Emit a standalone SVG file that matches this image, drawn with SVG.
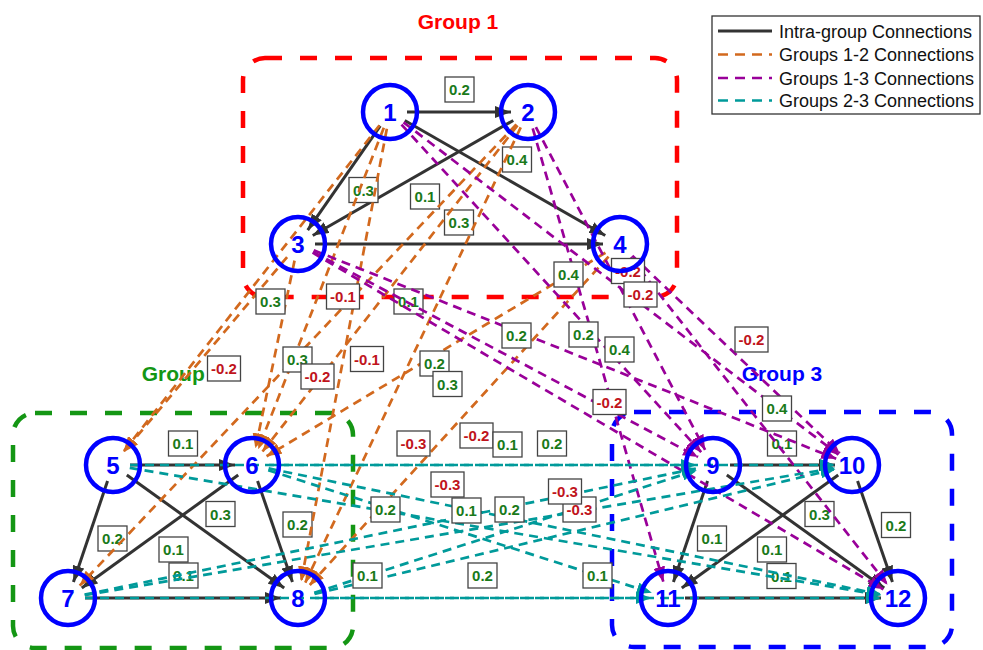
<svg xmlns="http://www.w3.org/2000/svg" width="983" height="650" viewBox="0 0 983 650">
<style>
.bg{fill:#ffffff}
.grp{fill:none;stroke-width:4.5;stroke-dasharray:17,18}
.gt{font-family:"Liberation Sans",Arial,sans-serif;font-weight:bold;font-size:21px;text-anchor:middle}
.node circle{fill:none;stroke:#0000ff;stroke-width:4.5}
.node text{font-family:"Liberation Sans",Arial,sans-serif;font-weight:bold;font-size:24px;fill:#0000ff;text-anchor:middle}
.ia{stroke:#333333;stroke-width:3;fill:none}
.c12{stroke:#d2691e;stroke-width:2.7;stroke-dasharray:9,6;fill:none}
.c13{stroke:#990099;stroke-width:2.7;stroke-dasharray:9,6;fill:none}
.c23{stroke:#009a9a;stroke-width:2.7;stroke-dasharray:9,6;fill:none}
.lb rect{fill:#ffffff;stroke:#444444;stroke-width:1.3}
.lb text{font-family:"Liberation Sans",Arial,sans-serif;font-weight:bold;font-size:15px;text-anchor:middle}
.g text{fill:#1a7a1a}
.r text{fill:#c0141c}
.leg text{font-family:"Liberation Sans",Arial,sans-serif;font-size:18px;fill:#111111}
</style>
<defs>
<marker id="ad" markerUnits="userSpaceOnUse" markerWidth="16" markerHeight="12" refX="16" refY="6" orient="auto"><path d="M0,0 L16,6 L0,12 z" fill="#333333"/></marker>
<marker id="ao" markerUnits="userSpaceOnUse" markerWidth="15" markerHeight="12" refX="15" refY="6" orient="auto"><path d="M0,0 L15,6 L0,12 z" fill="#d2691e"/></marker>
<marker id="ap" markerUnits="userSpaceOnUse" markerWidth="15" markerHeight="12" refX="15" refY="6" orient="auto"><path d="M0,0 L15,6 L0,12 z" fill="#990099"/></marker>
<marker id="at" markerUnits="userSpaceOnUse" markerWidth="15" markerHeight="12" refX="15" refY="6" orient="auto"><path d="M0,0 L15,6 L0,12 z" fill="#009a9a"/></marker>
</defs>
<rect class="bg" x="0" y="0" width="983" height="650"/>

<g id="groups">
<rect class="grp" x="243" y="58" width="434" height="239" rx="22" stroke="#ff0000"/>
<rect class="grp" x="13" y="413" width="340" height="235" rx="22" stroke="#149614"/>
<rect class="grp" x="612" y="412" width="340" height="235" rx="22" stroke="#0000ff"/>
<text class="gt" x="458" y="29" fill="#ff0000">Group 1</text>
<text class="gt" x="182" y="381" fill="#149614">Group 2</text>
<text class="gt" x="782" y="381" fill="#0000ff">Group 3</text>
</g>

<g id="connectors">
<g id="intra" marker-end="url(#ad)">
<line class="ia" x1="407" y1="112" x2="511" y2="112"/>
<line class="ia" x1="380.28" y1="125.95" x2="307.72" y2="230.05"/>
<line class="ia" x1="404.74" y1="120.46" x2="605.26" y2="235.54"/>
<line class="ia" x1="513.26" y1="120.46" x2="312.74" y2="235.54"/>
<line class="ia" x1="315" y1="244" x2="603" y2="244"/>
<line class="ia" x1="130" y1="465" x2="235" y2="465"/>
<line class="ia" x1="107.55" y1="481.10" x2="73.45" y2="581.90"/>
<line class="ia" x1="126.80" y1="474.92" x2="284.20" y2="588.08"/>
<line class="ia" x1="238.22" y1="474.96" x2="81.78" y2="588.04"/>
<line class="ia" x1="257.56" y1="481.07" x2="292.44" y2="581.93"/>
<line class="ia" x1="85" y1="598" x2="281" y2="598"/>
<line class="ia" x1="730" y1="465" x2="835" y2="465"/>
<line class="ia" x1="707.55" y1="481.10" x2="673.45" y2="581.90"/>
<line class="ia" x1="726.80" y1="474.92" x2="884.20" y2="588.08"/>
<line class="ia" x1="838.22" y1="474.96" x2="681.78" y2="588.04"/>
<line class="ia" x1="857.56" y1="481.07" x2="892.44" y2="581.93"/>
<line class="ia" x1="685" y1="598" x2="881" y2="598"/>
</g>
<g id="intra-labels">
<g class="lb g" transform="translate(459.5,89.5)"><rect x="-14.5" y="-12.5" width="29" height="25"/><text y="5.5">0.2</text></g>
<g class="lb g" transform="translate(363.5,190)"><rect x="-14.5" y="-12.5" width="29" height="25"/><text y="5.5">0.3</text></g>
<g class="lb g" transform="translate(517,159.5)"><rect x="-14.5" y="-12.5" width="29" height="25"/><text y="5.5">0.4</text></g>
<g class="lb g" transform="translate(425,196.5)"><rect x="-14.5" y="-12.5" width="29" height="25"/><text y="5.5">0.1</text></g>
<g class="lb g" transform="translate(459,222.5)"><rect x="-14.5" y="-12.5" width="29" height="25"/><text y="5.5">0.3</text></g>
<g class="lb g" transform="translate(183,443.5)"><rect x="-14.5" y="-12.5" width="29" height="25"/><text y="5.5">0.1</text></g>
<g class="lb g" transform="translate(112.5,538.5)"><rect x="-14.5" y="-12.5" width="29" height="25"/><text y="5.5">0.2</text></g>
<g class="lb g" transform="translate(220.5,514)"><rect x="-14.5" y="-12.5" width="29" height="25"/><text y="5.5">0.3</text></g>
<g class="lb g" transform="translate(173.5,549.5)"><rect x="-14.5" y="-12.5" width="29" height="25"/><text y="5.5">0.1</text></g>
<g class="lb g" transform="translate(297.5,524.5)"><rect x="-14.5" y="-12.5" width="29" height="25"/><text y="5.5">0.2</text></g>
<g class="lb g" transform="translate(183.5,575.5)"><rect x="-14.5" y="-12.5" width="29" height="25"/><text y="5.5">0.1</text></g>
<g class="lb g" transform="translate(782,443.5)"><rect x="-14.5" y="-12.5" width="29" height="25"/><text y="5.5">0.1</text></g>
<g class="lb g" transform="translate(712,538.5)"><rect x="-14.5" y="-12.5" width="29" height="25"/><text y="5.5">0.1</text></g>
<g class="lb g" transform="translate(819.5,514)"><rect x="-14.5" y="-12.5" width="29" height="25"/><text y="5.5">0.3</text></g>
<g class="lb g" transform="translate(772,549.5)"><rect x="-14.5" y="-12.5" width="29" height="25"/><text y="5.5">0.1</text></g>
<g class="lb g" transform="translate(896,525)"><rect x="-14.5" y="-12.5" width="29" height="25"/><text y="5.5">0.2</text></g>
<g class="lb g" transform="translate(781.5,576)"><rect x="-14.5" y="-12.5" width="29" height="25"/><text y="5.5">0.1</text></g>
</g>

<g id="g12" marker-end="url(#ao)">
<line class="c12" x1="379.51" y1="125.37" x2="123.49" y2="451.63"/>
<line class="c12" x1="383.81" y1="127.83" x2="258.19" y2="449.17"/>
<line class="c12" x1="386.84" y1="128.70" x2="301.16" y2="581.30"/>
<line class="c12" x1="517.53" y1="125.39" x2="262.47" y2="451.61"/>
<line class="c12" x1="516.31" y1="124.35" x2="79.69" y2="585.65"/>
<line class="c12" x1="520.73" y1="127.37" x2="305.27" y2="582.63"/>
<line class="c12" x1="287.09" y1="257.04" x2="123.91" y2="451.96"/>
<line class="c12" x1="294.54" y1="260.64" x2="255.46" y2="448.36"/>
<line class="c12" x1="605.43" y1="252.75" x2="266.57" y2="456.25"/>
<line class="c12" x1="608.56" y1="256.58" x2="309.44" y2="585.42"/>
</g>
<g id="g12-labels">
<g class="lb g" transform="translate(270.5,301.5)"><rect x="-14.5" y="-12.5" width="29" height="25"/><text y="5.5">0.3</text></g>
<g class="lb r" transform="translate(343,296.5)"><rect x="-16.5" y="-12.5" width="33" height="25"/><text y="5.5">-0.1</text></g>
<g class="lb r" transform="translate(367,359)"><rect x="-16.5" y="-12.5" width="33" height="25"/><text y="5.5">-0.1</text></g>
<g class="lb g" transform="translate(408.5,301.5)"><rect x="-14.5" y="-12.5" width="29" height="25"/><text y="5.5">0.1</text></g>
<g class="lb g" transform="translate(297.5,359.5)"><rect x="-14.5" y="-12.5" width="29" height="25"/><text y="5.5">0.3</text></g>
<g class="lb r" transform="translate(317.5,376.5)"><rect x="-16.5" y="-12.5" width="33" height="25"/><text y="5.5">-0.2</text></g>
<g class="lb g" transform="translate(434.5,363.5)"><rect x="-14.5" y="-12.5" width="29" height="25"/><text y="5.5">0.2</text></g>
<g class="lb r" transform="translate(224,368.5)"><rect x="-16.5" y="-12.5" width="33" height="25"/><text y="5.5">-0.2</text></g>
<g class="lb g" transform="translate(447.5,384)"><rect x="-14.5" y="-12.5" width="29" height="25"/><text y="5.5">0.3</text></g>
<g class="lb r" transform="translate(476.5,435.5)"><rect x="-16.5" y="-12.5" width="33" height="25"/><text y="5.5">-0.2</text></g>
</g>

<g id="g13" marker-end="url(#ap)">
<line class="c13" x1="401.48" y1="124.54" x2="701.52" y2="452.46"/>
<line class="c13" x1="403.51" y1="122.32" x2="838.49" y2="454.68"/>
<line class="c13" x1="535.89" y1="127.06" x2="705.11" y2="449.94"/>
<line class="c13" x1="532.71" y1="128.34" x2="663.29" y2="581.66"/>
<line class="c13" x1="313.00" y1="251.99" x2="698.00" y2="457.01"/>
<line class="c13" x1="313.79" y1="250.30" x2="836.21" y2="458.70"/>
<line class="c13" x1="312.64" y1="252.64" x2="883.36" y2="589.36"/>
<line class="c13" x1="632.31" y1="255.73" x2="839.69" y2="453.27"/>
<line class="c13" x1="630.50" y1="257.37" x2="887.50" y2="584.63"/>
</g>
<g id="g13-labels">
<g class="lb g" transform="translate(568.5,274.5)"><rect x="-14.5" y="-12.5" width="29" height="25"/><text y="5.5">0.4</text></g>
<g class="lb r" transform="translate(628,271)"><rect x="-16.5" y="-12.5" width="33" height="25"/><text y="5.5">-0.2</text></g>
<g class="lb r" transform="translate(640.5,294.5)"><rect x="-16.5" y="-12.5" width="33" height="25"/><text y="5.5">-0.2</text></g>
<g class="lb g" transform="translate(619.5,349.5)"><rect x="-14.5" y="-12.5" width="29" height="25"/><text y="5.5">0.4</text></g>
<g class="lb g" transform="translate(516.5,335.5)"><rect x="-14.5" y="-12.5" width="29" height="25"/><text y="5.5">0.2</text></g>
<g class="lb g" transform="translate(583.5,334.5)"><rect x="-14.5" y="-12.5" width="29" height="25"/><text y="5.5">0.2</text></g>
<g class="lb r" transform="translate(609.5,402)"><rect x="-16.5" y="-12.5" width="33" height="25"/><text y="5.5">-0.2</text></g>
<g class="lb r" transform="translate(751.5,339.5)"><rect x="-16.5" y="-12.5" width="33" height="25"/><text y="5.5">-0.2</text></g>
<g class="lb g" transform="translate(777,408.5)"><rect x="-14.5" y="-12.5" width="29" height="25"/><text y="5.5">0.4</text></g>
</g>

<g id="g23" marker-end="url(#at)">
<line class="c23" x1="130" y1="465" x2="696" y2="465"/>
<line class="c23" x1="129.76" y1="467.84" x2="881.24" y2="595.16"/>
<line class="c23" x1="269" y1="465" x2="835" y2="465"/>
<line class="c23" x1="268.19" y1="470.18" x2="651.81" y2="592.82"/>
<line class="c23" x1="268.65" y1="468.43" x2="881.35" y2="594.57"/>
<line class="c23" x1="84.65" y1="594.57" x2="696.35" y2="468.43"/>
<line class="c23" x1="84.76" y1="595.16" x2="835.24" y2="467.84"/>
<line class="c23" x1="85" y1="598" x2="651" y2="598"/>
<line class="c23" x1="314.19" y1="592.81" x2="696.81" y2="470.19"/>
<line class="c23" x1="314.53" y1="594.03" x2="835.47" y2="468.97"/>
<line class="c23" x1="315" y1="598" x2="881" y2="598"/>
</g>
<g id="g23-labels">
<g class="lb r" transform="translate(413.5,443.5)"><rect x="-16.5" y="-12.5" width="33" height="25"/><text y="5.5">-0.3</text></g>
<g class="lb g" transform="translate(507.5,444.5)"><rect x="-14.5" y="-12.5" width="29" height="25"/><text y="5.5">0.1</text></g>
<g class="lb g" transform="translate(509.5,509.5)"><rect x="-14.5" y="-12.5" width="29" height="25"/><text y="5.5">0.2</text></g>
<g class="lb g" transform="translate(552,443.5)"><rect x="-14.5" y="-12.5" width="29" height="25"/><text y="5.5">0.2</text></g>
<g class="lb g" transform="translate(466.5,510.5)"><rect x="-14.5" y="-12.5" width="29" height="25"/><text y="5.5">0.1</text></g>
<g class="lb r" transform="translate(579.5,509.5)"><rect x="-16.5" y="-12.5" width="33" height="25"/><text y="5.5">-0.3</text></g>
<g class="lb g" transform="translate(385.5,509.5)"><rect x="-14.5" y="-12.5" width="29" height="25"/><text y="5.5">0.2</text></g>
<g class="lb r" transform="translate(447.5,484.5)"><rect x="-16.5" y="-12.5" width="33" height="25"/><text y="5.5">-0.3</text></g>
<g class="lb g" transform="translate(367.5,575.5)"><rect x="-14.5" y="-12.5" width="29" height="25"/><text y="5.5">0.1</text></g>
<g class="lb g" transform="translate(482.5,575.5)"><rect x="-14.5" y="-12.5" width="29" height="25"/><text y="5.5">0.2</text></g>
<g class="lb r" transform="translate(565,491.5)"><rect x="-16.5" y="-12.5" width="33" height="25"/><text y="5.5">-0.3</text></g>
<g class="lb g" transform="translate(597.5,575.5)"><rect x="-14.5" y="-12.5" width="29" height="25"/><text y="5.5">0.1</text></g>
</g>
</g>

<g id="n1" class="node"><circle cx="390" cy="112" r="27"/><text x="390" y="120.5">1</text></g>
<g id="n2" class="node"><circle cx="528" cy="112" r="27"/><text x="528" y="120.5">2</text></g>
<g id="n3" class="node"><circle cx="298" cy="244" r="27"/><text x="298" y="252.5">3</text></g>
<g id="n4" class="node"><circle cx="620" cy="244" r="27"/><text x="620" y="252.5">4</text></g>
<g id="n5" class="node"><circle cx="113" cy="465" r="27"/><text x="113" y="473.5">5</text></g>
<g id="n6" class="node"><circle cx="252" cy="465" r="27"/><text x="252" y="473.5">6</text></g>
<g id="n7" class="node"><circle cx="68" cy="598" r="27"/><text x="68" y="606.5">7</text></g>
<g id="n8" class="node"><circle cx="298" cy="598" r="27"/><text x="298" y="606.5">8</text></g>
<g id="n9" class="node"><circle cx="713" cy="465" r="27"/><text x="713" y="473.5">9</text></g>
<g id="n10" class="node"><circle cx="852" cy="465" r="27"/><text x="852" y="473.5">10</text></g>
<g id="n11" class="node"><circle cx="668" cy="598" r="27"/><text x="668" y="606.5">11</text></g>
<g id="n12" class="node"><circle cx="898" cy="598" r="27"/><text x="898" y="606.5">12</text></g>

<g id="legend" class="leg">
<rect x="712" y="16" width="268" height="98" fill="#ffffff" stroke="#333333" stroke-width="1.3"/>
<line x1="718" y1="31" x2="772" y2="31" stroke="#333333" stroke-width="3"/>
<line x1="718" y1="54.5" x2="772" y2="54.5" stroke="#d2691e" stroke-width="2.5" stroke-dasharray="10,7"/>
<line x1="718" y1="78" x2="772" y2="78" stroke="#990099" stroke-width="2.5" stroke-dasharray="10,7"/>
<line x1="718" y1="100.5" x2="772" y2="100.5" stroke="#009a9a" stroke-width="2.5" stroke-dasharray="10,7"/>
<text x="779" y="37.5">Intra-group Connections</text>
<text x="779" y="61">Groups 1-2 Connections</text>
<text x="779" y="84.5">Groups 1-3 Connections</text>
<text x="779" y="107">Groups 2-3 Connections</text>
</g>
</svg>
